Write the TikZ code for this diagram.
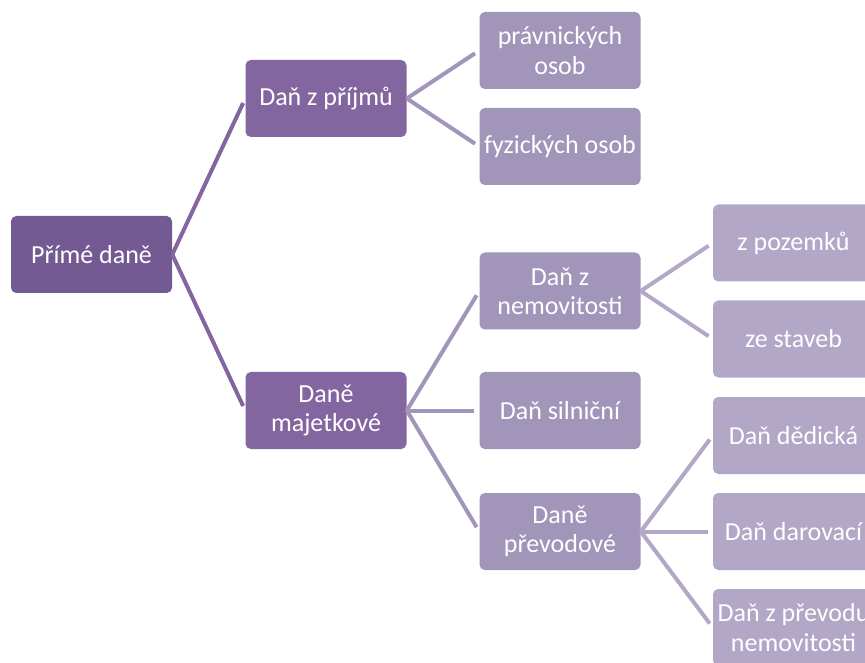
\documentclass[tikz,border=0pt]{standalone}
\usepackage{fontspec}
\setmainfont{Carlito}
\usepackage{tikz}
\usepackage{xcolor}
\definecolor{rootc}{RGB}{115,90,147}
\definecolor{levela}{RGB}{131,102,160}
\definecolor{levelb}{RGB}{162,149,186}
\definecolor{levelc}{RGB}{178,167,199}

\begin{document}
\begin{tikzpicture}[x=0.75pt,y=-0.75pt,
    box/.style={rectangle,rounded corners=4pt,minimum width=120.75pt,minimum height=57.75pt,
        inner sep=0pt,text=white,align=center,font=\fontsize{19.5}{22}\selectfont},
    link/.style={line width=3pt,shorten >=3.75pt}]
    \useasboundingbox (0,0) rectangle (865,663);
    \clip (0,0) rectangle (865,663);

    % Root
    \node[box,fill=rootc] (prime) at (91.5,254.5) {Přímé daně};

    % Level 1
    \node[box,fill=levela] (prijmy) at (326,98.5) {Daň z příjmů};
    \node[box,fill=levela] (majet) at (326,410.5) {Daně\\majetkové};

    % Level 2
    \node[box,fill=levelb] (pravn) at (560,50.5) {právnických\\osob};
    \node[box,fill=levelb] (fyz) at (560,146.5) {fyzických osob};
    \node[box,fill=levelb] (nemov) at (560,291) {Daň z\\nemovitosti};
    \node[box,fill=levelb] (silni) at (560,410.5) {Daň silniční};
    \node[box,fill=levelb] (prevod) at (560,531.5) {Daně\\převodové};

    % Level 3
    \node[box,fill=levelc] (pozem) at (793.5,243) {z pozemků};
    \node[box,fill=levelc] (stav) at (793.5,339) {ze staveb};
    \node[box,fill=levelc] (dedic) at (793.5,435.5) {Daň dědická};
    \node[box,fill=levelc] (darov) at (793.5,531.5) {Daň darovací};
    \node[box,fill=levelc] (prevnem) at (793.5,627.5) {Daň z převodu\\nemovitosti};

    % Connectors
    \draw[link,levela] (prime.east) -- (prijmy.west);
    \draw[link,levela] (prime.east) -- (majet.west);
    \draw[link,levelb] (prijmy.east) -- (pravn.west);
    \draw[link,levelb] (prijmy.east) -- (fyz.west);
    \draw[link,levelb] (majet.east) -- (nemov.west);
    \draw[link,levelb] (majet.east) -- (silni.west);
    \draw[link,levelb] (majet.east) -- (prevod.west);
    \draw[link,levelc] (nemov.east) -- (pozem.west);
    \draw[link,levelc] (nemov.east) -- (stav.west);
    \draw[link,levelc] (prevod.east) -- (dedic.west);
    \draw[link,levelc] (prevod.east) -- (darov.west);
    \draw[link,levelc] (prevod.east) -- (prevnem.west);
\end{tikzpicture}
\end{document}
